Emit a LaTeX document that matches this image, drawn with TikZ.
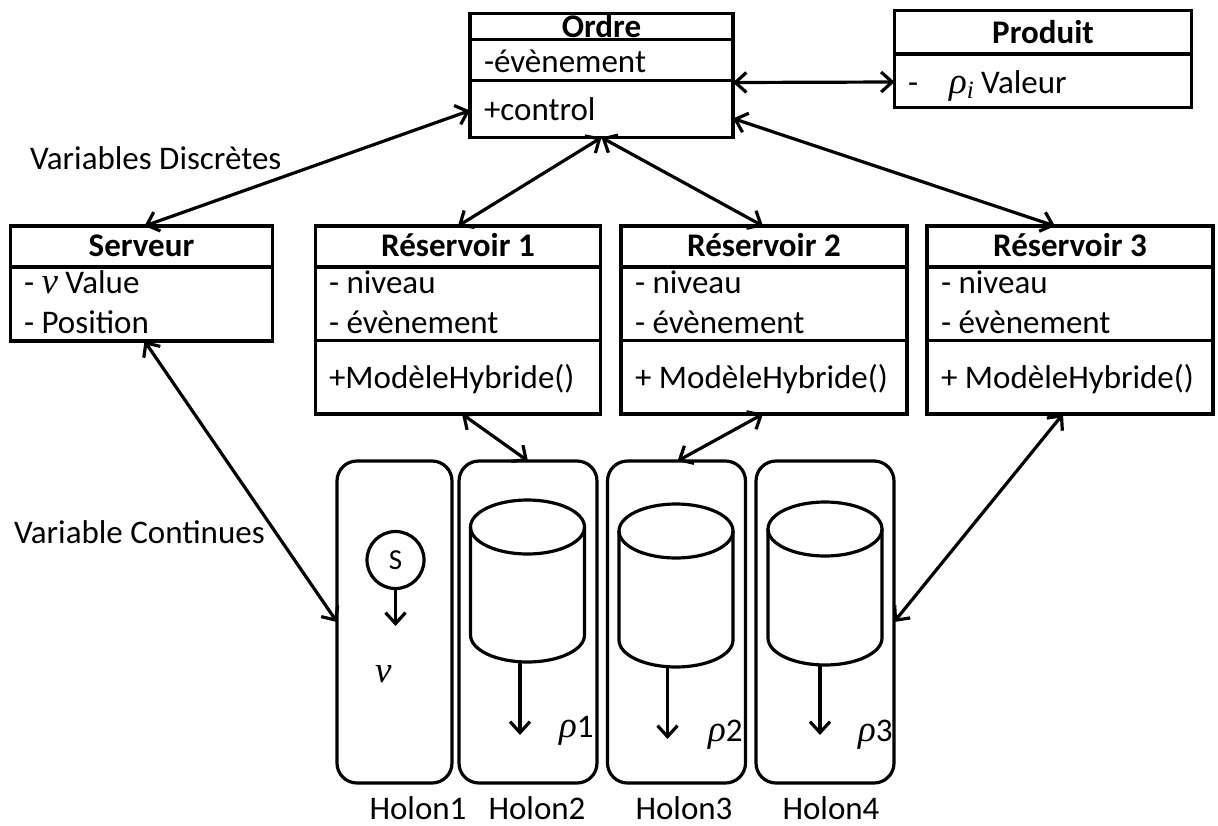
\documentclass[tikz,border=0pt]{standalone}
\usepackage{fontspec}
\setmainfont{Carlito}
\newfontfamily\mathfont{Liberation Serif}
\usetikzlibrary{arrows.meta,shapes.geometric,calc}
\newcommand{\mv}[1]{{\fontsize{37}{40}\mathfont\itshape #1}}
\tikzset{
  x=1pt,y=-1pt,
  lw/.style={line width=3.2pt,draw=black},
  cell/.style={lw,rectangle,inner sep=0pt,outer sep=0pt},
  sep/.style={line width=3.2pt},
  txt/.style={anchor=base west,inner sep=0pt,outer sep=0pt,font=\fontsize{33}{36}\selectfont},
  ttl/.style={anchor=base,inner sep=0pt,outer sep=0pt,font=\fontsize{33}{36}\selectfont\bfseries},
  lab/.style={anchor=base,inner sep=0pt,outer sep=0pt,font=\fontsize{33}{36}\selectfont},
  link/.style={line width=3.2pt,{Straight Barb[length=11pt,width=20pt,line width=3.2pt]}-{Straight Barb[length=11pt,width=20pt,line width=3.2pt]}},
  flow/.style={line width=3.2pt,-{Straight Barb[length=11pt,width=20pt,line width=3.2pt]}},
  holon/.style={lw,rectangle,rounded corners=20pt,inner sep=0pt,outer sep=0pt},
  lid/.style={lw,ellipse,minimum width=114pt,minimum height=54pt,inner sep=0pt,outer sep=0pt},
  body/.style={lw},
}
\newcommand{\tankbody}[2]{%
  \draw[body] (#1.west) -- ++(0,#2) arc[start angle=180,end angle=360,x radius=57pt,y radius=27pt] -- (#1.east);}
\begin{document}
\begin{tikzpicture}
\useasboundingbox (0,0) rectangle (1218,825);
% class boxes
\node[cell,minimum width=263pt,minimum height=124pt] (ordre) at (601.5,75.5) {};
\node[cell,minimum width=297pt,minimum height=97pt] (produit) at (1043,59) {};
\node[cell,minimum width=262pt,minimum height=115pt] (serveur) at (141.5,283.5) {};
\node[cell,minimum width=285pt,minimum height=188pt] (res1) at (458,320) {};
\node[cell,minimum width=286pt,minimum height=188pt] (res2) at (764,320) {};
\node[cell,minimum width=286pt,minimum height=188pt] (res3) at (1070,320) {};
% compartment lines
\draw[sep] (ordre.west |- 0,39.5) -- (ordre.east |- 0,39.5);
\draw[sep] (ordre.west |- 0,80.5) -- (ordre.east |- 0,80.5);
\draw[sep] (produit.west |- 0,54) -- (produit.east |- 0,54);
\draw[sep] (serveur.west |- 0,267) -- (serveur.east |- 0,267);
\foreach \b in {res1,res2,res3}{
  \draw[sep] (\b.west |- 0,267) -- (\b.east |- 0,267);
  \draw[sep] (\b.west |- 0,340.5) -- (\b.east |- 0,340.5);
}
% class texts
\node[ttl] (t0) at (601.5,37) {Ordre};
\node[txt] (o1) at (484,72) {-évènement};
\node[txt] (o2) at (484,120) {+control};
\node[ttl] (t1) at (1043,43) {Produit};
\node[txt] (p1) at (908,93) {-};
\node[txt] (p2) at (949,93) {\mv{ρ}\raisebox{-5pt}{\fontsize{25}{27}\selectfont\mathfont\itshape i} Valeur};
\node[ttl] (t2) at (141.5,256) {Serveur};
\node[txt] (s1) at (24,293) {- \mv{v} Value};
\node[txt] (s2) at (24,333) {- Position};
\node[ttl] (t3) at (458,256) {Réservoir 1};
\node[txt] (a1) at (329,293) {- niveau};
\node[txt] (a2) at (329,333) {- évènement};
\node[txt] (a3) at (329,388) {+ModèleHybride()};
\node[ttl] (t4) at (764,256) {Réservoir 2};
\node[txt] (b1) at (635,293) {- niveau};
\node[txt] (b2) at (635,333) {- évènement};
\node[txt] (b3) at (635,388) {+ ModèleHybride()};
\node[ttl] (t5) at (1070,256) {Réservoir 3};
\node[txt] (c1) at (941,293) {- niveau};
\node[txt] (c2) at (941,333) {- évènement};
\node[txt] (c3) at (941,388) {+ ModèleHybride()};
\node[txt] (vd) at (30,169) {Variables Discrètes};
\node[txt] (vc) at (14,543) {Variable Continues};
% holons
\node[holon,minimum width=115pt,minimum height=322pt] (h1) at (394.5,622) {};
\node[holon,minimum width=138pt,minimum height=322pt] (h2) at (528,622) {};
\node[holon,minimum width=138pt,minimum height=322pt] (h3) at (676.5,622) {};
\node[holon,minimum width=138pt,minimum height=322pt] (h4) at (825,622) {};
\node[lab] (l1) at (418,819) {Holon1};
\node[lab] (l2) at (537,819) {Holon2};
\node[lab] (l3) at (684,819) {Holon3};
\node[lab] (l4) at (831,819) {Holon4};
% tanks
\node[lid] (k1) at (527.5,527) {};
\node[lid] (k2) at (676,531) {};
\node[lid] (k3) at (825,529) {};
\tankbody{k1}{108}
\tankbody{k2}{109}
\tankbody{k3}{109}
\coordinate (b1a) at (520,662);
\coordinate (b2a) at (667.5,667);
\coordinate (b3a) at (820,665);
\coordinate (e1) at (520,735);
\coordinate (e2) at (667.5,739);
\coordinate (e3) at (820,735);
\draw[flow] (b1a) -- (e1);
\draw[flow] (b2a) -- (e2);
\draw[flow] (b3a) -- (e3);
\node[txt] (r1) at (559,737) {\mv{ρ}1};
\node[txt] (r2) at (708,741) {\mv{ρ}2};
\node[txt] (r3) at (858,741) {\mv{ρ}3};
% source
\node[lw,circle,minimum size=57pt,inner sep=0pt,outer sep=0pt,font=\fontsize{29}{32}\selectfont] (src) at (395.5,560) {S};
\coordinate (se) at (395.5,626);
\draw[flow] (src.south) -- (se);
\node[txt] (vv) at (375,682) {\mv{v}};
% connectors
\draw[link] ([yshift=-35pt]ordre.west) -- ([xshift=3pt]serveur.north);
\draw[link] (ordre.south) -- (res1.north);
\draw[link] (ordre.south) -- ([xshift=-1pt]res2.north);
\draw[link] ([yshift=-43pt]ordre.east) -- ([xshift=-15pt]res3.north);
\draw[link] ([yshift=-7pt]ordre.east) -- ([yshift=-23pt]produit.west);
\draw[link] ([xshift=3pt]serveur.south) -- (h1.west);
\draw[link] ([xshift=4pt]res1.south) -- (h2.north);
\draw[link] ([xshift=-1pt]res2.south) -- ([xshift=1pt]h3.north);
\draw[link] ([xshift=-7pt]res3.south) -- (h4.east);
\end{tikzpicture}
\end{document}
